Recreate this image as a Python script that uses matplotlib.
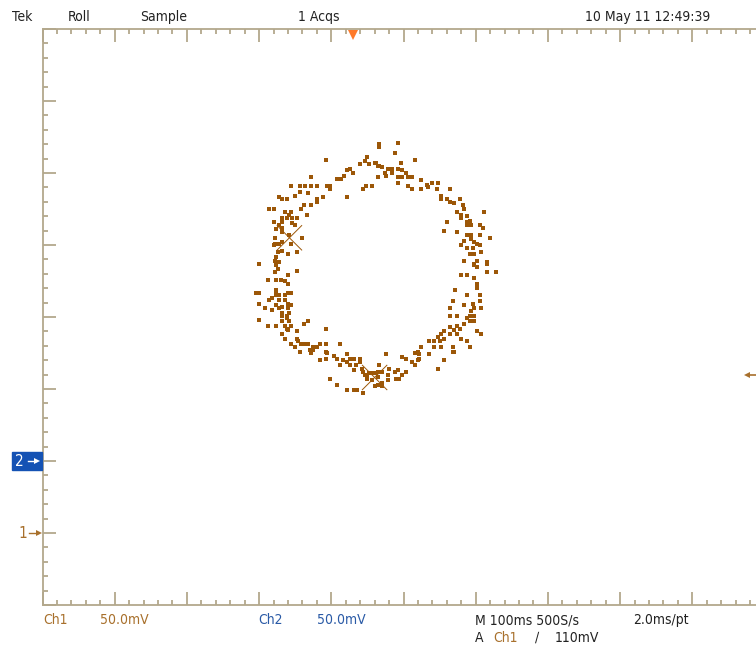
import matplotlib
matplotlib.use('Agg')
import matplotlib.pyplot as plt
from matplotlib.ticker import MultipleLocator
from matplotlib.transforms import blended_transform_factory
from matplotlib.patches import Rectangle

# XY mode capture, Ch1 on X, Ch2 on Y, both 50 mV/div
# values in mV (screen centre = 0)
ul_x = [-54, -25, -27, -30, -24, -20, -18, -18, -37, -39,
        -35, -41, -43, -46, -64, -78, -72, -68, -64, -60,
        -53, -51, -51, -26, -28, -22, -75, -72, -66, -56,
        -60, -60, -39, -86, -84, -81, -93, -90, -64, -69,
        -71, -82, -78, -79, -77, -74, -67, -84, -81, -84,
        -90, -86, -77, -75, -84, -88, -84, -79, -70, -89,
        -89, -86, -84, -78, -90, -84, -87, -80, -74, -88,
        -89, -86, -100]
ul_y = [109, 111, 108, 106, 106, 107, 105, 97, 103, 102,
        100, 98, 96, 96, 97, 91, 91, 91, 91, 91,
        91, 91, 89, 91, 89, 91, 84, 87, 86, 83,
        82, 80, 83, 83, 82, 82, 75, 75, 78, 78,
        75, 73, 73, 71, 69, 69, 71, 69, 69, 66,
        66, 64, 65, 64, 62, 61, 59, 57, 55, 55,
        51, 51, 52, 51, 50, 46, 45, 44, 45, 42,
        39, 38, 37]

ur_x = [-17, -17, -4, -6, 8, -2, -19, -17, -15, -11,
        -8, -4, -1, 2, -13, -8, -12, -4, -1, 3,
        6, 12, -4, 16, 20, 24, 3, 6, 12, 17,
        23, 32, 26, 26, 30, 32, 35, 39, 41, 42,
        37, 40, 44, 56, 40, 44, 46, 44, 47, 30,
        53, 55, 28, 37, 44, 47, 53, 60, 42, 47,
        49, 51, 40, 44, 48, 53, 49, 46, 54, 42,
        51, 49, 58]
ur_y = [118, 120, 121, 114, 109, 107, 107, 105, 104, 103,
        103, 103, 102, 100, 100, 100, 98, 97, 97, 97,
        97, 95, 93, 92, 93, 93, 91, 89, 89, 90,
        89, 89, 84, 82, 82, 80, 79, 82, 78, 75,
        73, 71, 70, 73, 69, 66, 67, 64, 64, 66,
        64, 62, 60, 59, 57, 57, 57, 55, 53, 54,
        52, 51, 50, 48, 48, 50, 44, 44, 45, 39,
        39, 37, 38]

ll_x = [-100, -88, -87, -89, -80, -74, -94, -88, -85, -82,
        -80, -88, -88, -102, -100, -80, -78, -88, -86, -82,
        -91, -93, -86, -82, -80, -100, -78, -88, -84, -80,
        -96, -86, -91, -84, -79, -84, -81, -81, -100, -84,
        -79, -78, -82, -81, -80, -94, -88, -66, -69, -54,
        -74, -84, -82, -74, -73, -78, -71, -69, -66, -75,
        -63, -60, -58, -54, -44, -65, -63, -64, -72, -54,
        -53, -48, -54, -58, -39, -46, -42, -44, -39, -37,
        -34, -30, -33, -37, -30, -34, -29, -28, -27, -25,
        -24, -21, -19, -25, -22, -51, -46, -39, -34, -32,
        -28, -20, -18]
ll_y = [37, 36, 33, 31, 29, 32, 26, 26, 26, 25,
        23, 19, 17, 17, 17, 17, 17, 15, 15, 15,
        13, 12, 12, 12, 9, 9, 8, 8, 7, 6,
        6, 6, 5, 3, 3, 1, 1, -1, -2, -3,
        -3, -6, -6, -8, -9, -6, -6, -3, -5, -8,
        -10, -12, -15, -15, -17, -19, -19, -19, -19, -21,
        -21, -21, -19, -19, -19, -23, -23, -25, -24, -24,
        -25, -27, -29, -30, -26, -29, -30, -33, -31, -29,
        -29, -29, -33, -33, -31, -37, -36, -38, -40, -40,
        -39, -39, -39, -43, -44, -43, -47, -51, -51, -51,
        -53, -48, -42]

lr_x = [49, 51, 58, 58, 64, 40, 44, 49, 51, 51,
        36, 44, 53, 34, 53, 48, 42, 49, 54, 32,
        47, 46, 32, 37, 49, 44, 46, 49, 42, 37,
        39, 32, 35, 32, 28, 26, 24, 28, 37, 51,
        54, 40, 44, 25, 21, 18, 21, 26, 46, 34,
        34, 35, 12, 10, 8, 18, 11, 11, 10, 8,
        6, -1, 2, -12, 28, 24, -17, -18, -15, -10,
        -11, -6, -4, 2, -1, -5, -3, -11, -15, -18,
        -15]
lr_y = [36, 35, 37, 31, 31, 29, 29, 27, 23, 20,
        19, 15, 15, 11, 11, 9, 8, 6, 6, 6,
        4, 1, 1, 1, 1, -1, -3, -3, -5, -6,
        -8, -7, -9, -12, -10, -12, -14, -15, -12, -10,
        -12, -15, -17, -17, -17, -17, -21, -21, -21, -21,
        -24, -24, -21, -24, -25, -26, -26, -29, -30, -33,
        -31, -28, -29, -26, -30, -36, -33, -38, -38, -36,
        -40, -38, -37, -38, -40, -43, -43, -44, -46, -47,
        -48]

cursor_x = [-79, -20]
cursor_y = [55, -42]

ch2_marker = -100
ch1_marker = -150
trig_level = -40
trig_pos = -35

DOT = '#9c5708'
CH1 = '#a8702c'
CH2 = '#2a5aa6'
GRAT = '#b3a88c'
INK = '#222222'
W, H = 756, 655

plt.rcParams['font.family'] = ['DejaVu Sans']
plt.rcParams['font.stretch'] = 'condensed'
FS = 10


def fx(px):
    return px / W


def fy(py):
    return 1 - py / H


fig = plt.figure(figsize=(7.56, 6.55), dpi=100)
ax = fig.add_axes([fx(42.5), fy(605), 722 / W, 576 / H])
ax.set_xlim(-250, 250)
ax.set_ylim(-200, 200)

for s in ['left', 'top', 'bottom']:
    ax.spines[s].set_color(GRAT)
    ax.spines[s].set_linewidth(1.3)
ax.spines['right'].set_visible(False)
ax.xaxis.set_major_locator(MultipleLocator(50))
ax.xaxis.set_minor_locator(MultipleLocator(10))
ax.yaxis.set_major_locator(MultipleLocator(50))
ax.yaxis.set_minor_locator(MultipleLocator(10))
ax.tick_params(which='both', direction='in', top=True, bottom=True,
               left=True, right=False, labelbottom=False, labelleft=False,
               color=GRAT, width=1.3)
ax.tick_params(which='major', length=9.5)
ax.tick_params(which='minor', length=3.8)

for xs, ys in [(ul_x, ul_y), (ur_x, ur_y), (ll_x, ll_y), (lr_x, lr_y)]:
    assert len(xs) == len(ys)
    ax.plot(xs, ys, 's', ms=2.4, mew=0, color=DOT)

# cursor crosses
d = 8.5
for cx, cy in zip(cursor_x, cursor_y):
    ax.plot([cx - d, cx + d], [cy - d, cy + d], color=DOT, lw=0.7)
    ax.plot([cx - d, cx + d], [cy + d, cy - d], color=DOT, lw=0.7)

# trigger position marker on top edge
ax.plot([trig_pos], [196], marker='v', ms=7, color='#ff7a2a', mew=0, clip_on=False)

# channel markers on the left, trigger level on the right
bt = blended_transform_factory(fig.transFigure, ax.transData)
ax.add_patch(Rectangle((fx(12), fy(470)), 30 / W, 18 / H,
                       transform=fig.transFigure, color='#1452b4',
                       zorder=3, clip_on=False))
ax.text(fx(15), ch2_marker, '2', transform=bt, color='white', fontsize=11,
        va='center', ha='left', zorder=4, clip_on=False)
ax.plot([fx(28), fx(36)], [ch2_marker, ch2_marker], transform=bt, color='white',
        lw=1, clip_on=False, zorder=4)
ax.plot([fx(36.5)], [ch2_marker], transform=bt, marker='>', ms=4, mew=0,
        color='white', clip_on=False, zorder=4)

ax.text(fx(18), ch1_marker, '1', transform=bt, color=CH1, fontsize=11,
        va='center', ha='left', clip_on=False)
ax.plot([fx(29), fx(38)], [ch1_marker, ch1_marker], transform=bt, color=CH1,
        lw=1, clip_on=False)
ax.plot([fx(38.5)], [ch1_marker], transform=bt, marker='>', ms=4, mew=0,
        color=CH1, clip_on=False)

ax.plot([fx(748), fx(756)], [trig_level, trig_level], transform=bt, color=CH1,
        lw=1.2, clip_on=False)
ax.plot([fx(747)], [trig_level], transform=bt, marker='<', ms=5, mew=0,
        color=CH1, clip_on=False)

# status line
top = fy(17)
for x, s in [(12, 'Tek'), (68, 'Roll'), (140, 'Sample'), (298, '1 Acqs'),
             (585, '10 May 11 12:49:39')]:
    fig.text(fx(x), top, s, fontsize=FS, va='center', ha='left', color=INK)

# readouts
r1, r2 = fy(620), fy(638)
fig.text(fx(43), r1, 'Ch1', fontsize=FS, va='center', color=CH1)
fig.text(fx(100), r1, '50.0mV', fontsize=FS, va='center', color=CH1)
fig.text(fx(258), r1, 'Ch2', fontsize=FS, va='center', color=CH2)
fig.text(fx(317), r1, '50.0mV', fontsize=FS, va='center', color=CH2)
fig.text(fx(475), r1, 'M 100ms 500S/s', fontsize=FS, va='center', color=INK)
fig.text(fx(633), r1, '2.0ms/pt', fontsize=FS, va='center', color=INK)
fig.text(fx(475), r2, 'A', fontsize=FS, va='center', color=INK)
fig.text(fx(493), r2, 'Ch1', fontsize=FS, va='center', color=CH1)
fig.text(fx(535), r2, '\u2215', fontsize=FS, va='center', color=INK)
fig.text(fx(555), r2, '110mV', fontsize=FS, va='center', color=INK)

fig.savefig('out.png', dpi=100, facecolor='white')
